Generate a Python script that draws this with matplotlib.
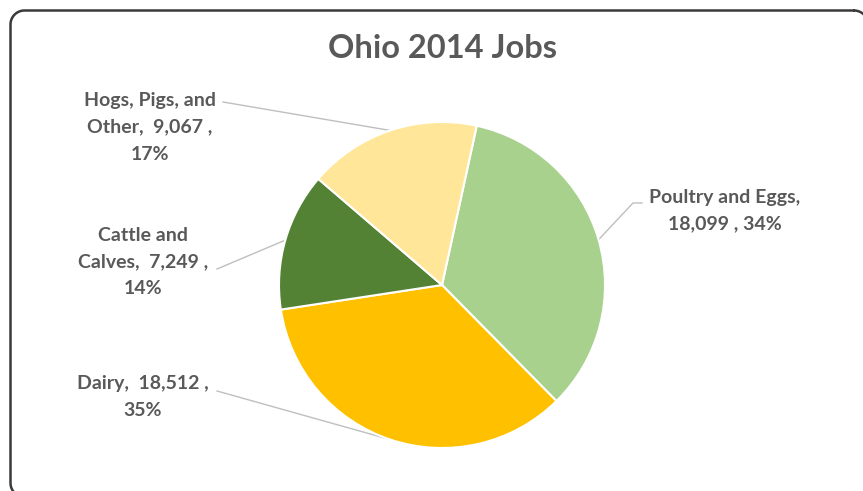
import numpy as np
import matplotlib
matplotlib.use("Agg")
import matplotlib.pyplot as plt
from matplotlib.transforms import Bbox

categories = ["Poultry and Eggs", "Dairy", "Cattle and Calves", "Hogs, Pigs, and Other"]
jobs = [18099, 18512, 7249, 9067]
colors = ["#A9D18E", "#FFC000", "#548235", "#FFE699"]

# label text lines, as wrapped on the chart
label_lines = [
    ["Poultry and Eggs,", "18,099 , 34%"],
    ["Dairy,  18,512 ,", "35%"],
    ["Cattle and", "Calves,  7,249 ,", "14%"],
    ["Hogs, Pigs, and", "Other,  9,067 ,", "17%"],
]

W, H = 863, 491
fig = plt.figure(figsize=(W / 100, H / 100), dpi=100)
ax = fig.add_axes([0, 0, 1, 1])
ax.set_xlim(0, W)
ax.set_ylim(H, 0)
ax.set_autoscale_on(False)
ax.axis("off")

TXT = "#595959"
FONT = ["Lato", "DejaVu Sans"]


def rounded_outline(x0, y0, x1, y1, rad, n=24):
    """Closed outline of a rounded rectangle (y grows downward)."""
    pts = []
    corners = [(x1 - rad, y0 + rad, 270, 360), (x1 - rad, y1 - rad, 0, 90),
               (x0 + rad, y1 - rad, 90, 180), (x0 + rad, y0 + rad, 180, 270)]
    for ccx, ccy, a0, a1 in corners:
        t = np.deg2rad(np.linspace(a0, a1, n))
        pts += list(zip(ccx + rad * np.cos(t), ccy + rad * np.sin(t)))
    pts.append(pts[0])
    return np.array(pts)


# chart frame; right and bottom edges lie beyond the canvas
outline = rounded_outline(10.5, 10.5, 868, 497, 14)
ax.plot(outline[:, 0], outline[:, 1], color="#3a3a3a", lw=1.8, solid_capstyle="round")

ax.text(442, 48, "Ohio 2014 Jobs", ha="center", va="center", fontsize=23.5,
        fontweight="bold", color=TXT, family=FONT)

# pie drawn on its own axes so angles follow the usual convention
cx, cy, r = 442, 285, 163
pax = fig.add_axes([(cx - r) / W, 1 - (cy + r) / H, 2 * r / W, 2 * r / H])
pax.axis("off")
wedges, _ = pax.pie(jobs, colors=colors, startangle=77.7, counterclock=False, radius=1,
                    center=(0, 0), wedgeprops=dict(edgecolor="white", linewidth=1.5))
pax.set_aspect("auto")
pax.set_xlim(-1, 1)
pax.set_ylim(-1, 1)

# label anchors: (text center x, first line center y, leader start, elbow)
label_pos = [
    (725, 197, (642, 203), (633, 203)),
    (143, 383, (217, 391), None),
    (143, 235, (217, 269), None),
    (150, 100, (223, 102), None),
]
line_h = 27
for w, lines, (tx, ty, start, elbow) in zip(wedges, label_lines, label_pos):
    for i, s in enumerate(lines):
        ax.text(tx, ty + i * line_h, s, ha="center", va="center", fontsize=14,
                fontweight="bold", color=TXT, family=FONT)
    mid = np.deg2rad((w.theta1 + w.theta2) / 2)
    ex, ey = cx + r * np.cos(mid), cy - r * np.sin(mid)
    pts = [start] + ([elbow] if elbow else []) + [(ex, ey)]
    xs, ys = zip(*pts)
    ax.plot(xs, ys, color="#BFBFBF", lw=1.0, zorder=0)

fig.savefig("out.png", dpi=100, facecolor="white",
            bbox_inches=Bbox.from_bounds(0, 0, W / 100, H / 100))
